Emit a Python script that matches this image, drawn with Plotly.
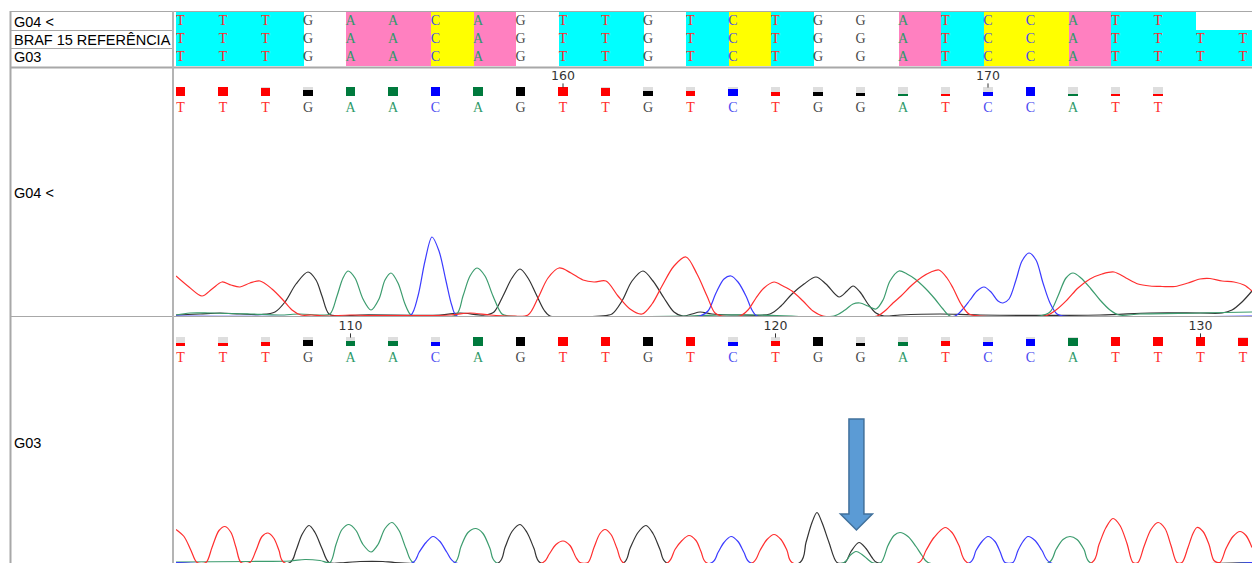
import plotly.graph_objects as go

FIG_W, FIG_H = 1252, 563

# ---- aligned sequences -------------------------------------------------
SEQ_G04 = "TTTGAACAGTTGTCTGGATCCATT"
SEQ_REF = "TTTGAACAGTTGTCTGGATCCATTTT"
SEQ_G03 = "TTTGAACAGTTGTCTGGATCCATTTT"
ALIGN_ROWS = ["G04 <", "BRAF 15 REFERÊNCIA", "G03"]
PANEL_NAMES = ["G04 <", "G03"]

# base number of the first visible call in each trace window
FIRST_BASE_G04 = 151
FIRST_BASE_G03 = 106

# call quality (fraction of full marker height)
QUAL_G04 = [1, 1, 0.85, 0.65, 1, 1, 1, 1, 1, 1, 0.85, 0.5, 0.5, 0.7, 0.4,
            0.4, 0.35, 0.15, 0.15, 0.4, 1, 0.2, 0.2, 0.2]
QUAL_G03 = [0.35, 0.35, 0.45, 0.6, 0.55, 0.55, 0.45, 1, 1, 1, 1, 1, 1, 0.45,
            0.55, 1, 0.35, 0.45, 0.55, 0.45, 0.7, 0.85, 1, 1, 1, 0.85]

# base flagged in the G03 window
MUTATION_COL = 16

# ---- chromatogram channels: (scan, signal) -----------------------------
G04_T = [(0, 40), (13, 29), (26, 20), (36, 27), (46, 34), (55, 31), (64, 29), (74, 33),
         (84, 35), (96, 27), (107, 16), (116, 6), (125, 1), (136, 1), (149, 0), (174, 1),
         (194, 0.5), (274, 1), (294, 3), (314, 1), (334, 0), (352, 1), (362, 18), (372, 38),
         (383, 48), (395, 43), (407, 36), (418, 34), (430, 35), (442, 20), (454, 7), (466, 2),
         (476, 12), (486, 30), (498, 50), (510, 59), (521, 42), (531, 20), (539, 3), (546, 0),
         (564, 0), (572, 6), (580, 18), (588, 28), (598, 34), (607, 30), (616, 25), (627, 15),
         (637, 5), (647, 0), (701, 0), (710, 6), (717, 13), (725, 20), (736, 31), (746, 39),
         (755, 44), (763, 46), (771, 38), (777, 28), (785, 12), (793, 2), (804, 0), (869, 0),
         (880, 6), (891, 16), (902, 28), (914, 37), (926, 42), (938, 44), (950, 38), (962, 32),
         (974, 30), (986, 29.5), (999, 29.5), (1012, 33), (1024, 37), (1034, 37.5), (1046, 35),
         (1058, 34), (1068, 31), (1076, 25)]
G04_G = [(0, 1), (24, 2), (44, 3), (64, 2), (86, 1.5), (99, 4), (109, 14), (120, 32),
         (132, 44), (140, 36), (146, 20), (153, 2), (164, 0), (184, 1), (264, 1), (284, 3),
         (309, 1), (318, 4), (327, 20), (336, 38), (344, 47), (352, 38), (360, 22), (368, 6),
         (374, 0), (424, 0), (436, 2), (446, 15), (456, 35), (467, 45), (477, 35), (488, 18),
         (498, 4), (507, 0), (516, 2), (524, 4), (536, 2), (564, 1), (594, 2), (605, 10),
         (616, 22), (628, 32), (640, 39), (650, 32), (663, 19), (671, 25), (677, 30), (684, 24),
         (692, 12), (700, 3), (708, 0), (724, 1), (764, 2), (804, 1), (924, 1), (974, 3),
         (1024, 3), (1046, 3), (1056, 6), (1066, 14), (1076, 25)]
G04_A = [(0, 1), (14, 3), (34, 3), (74, 2), (104, 1), (124, 2), (144, 1), (154, 2),
         (161, 20), (167, 38), (172, 45), (179, 38), (187, 17), (195, 6), (203, 17), (209, 36),
         (215, 43), (222, 33), (229, 12), (235, 1), (244, 0), (280, 1), (287, 20), (294, 40),
         (301, 48), (309, 40), (317, 20), (326, 2), (334, 0), (514, 0), (544, 1), (584, 1),
         (658, 0), (669, 6), (677, 12), (684, 13), (692, 10), (700, 7), (707, 16), (714, 35),
         (723, 45), (731, 42), (739, 37), (749, 28), (759, 17), (767, 7), (774, 0), (864, 0),
         (874, 4), (882, 20), (890, 38), (897, 43), (905, 38), (915, 27), (924, 16), (934, 6),
         (943, 1), (964, 2), (1024, 3), (1076, 4)]
G04_C = [(0, 0), (224, 0), (235, 1), (242, 20), (249, 55), (256, 79), (263, 65), (270, 35),
         (276, 10), (281, 0), (524, 0), (532, 5), (540, 23), (548, 37), (555, 40), (562, 34),
         (570, 20), (576, 6), (581, 0), (779, 0), (786, 6), (794, 16), (801, 25), (808, 29),
         (815, 24), (822, 15), (827, 13), (833, 17), (840, 36), (846, 55), (853, 63), (860, 56),
         (867, 33), (874, 13), (881, 2), (887, 0), (1076, 0)]

G03_T = [(0, 33), (8, 26), (15, 12), (21, 0), (30, 0), (36, 15), (43, 32), (49, 36),
         (55, 30), (60, 15), (65, 0), (74, 0), (80, 12), (86, 26), (92, 29.5), (98, 24),
         (103, 12), (108, 0), (367, 0), (373, 8), (380, 18), (387, 21.5), (394, 17), (400, 5),
         (404, 0), (412, 0), (418, 15), (424, 29), (429, 33), (435, 28), (441, 14), (447, 0),
         (492, 0), (499, 13), (506, 22), (513, 27), (520, 22), (525, 11), (530, 0), (577, 0),
         (584, 12), (591, 23), (598, 28), (605, 23), (611, 12), (616, 0), (743, 0), (750, 12),
         (758, 25), (769, 35), (776, 30), (783, 17), (791, 0), (916, 0), (923, 18), (930, 35),
         (937, 44), (944, 37), (951, 19), (957, 0), (962, 0), (968, 16), (975, 33), (982, 40),
         (989, 34), (995, 17), (1001, 0), (1006, 0), (1012, 15), (1017, 29), (1021, 35),
         (1027, 31), (1033, 18), (1038, 2), (1044, 0), (1050, 14), (1057, 26), (1064, 31),
         (1070, 27), (1076, 15)]
G03_G = [(0, 0), (114, 0), (120, 12), (126, 28), (133, 37), (139, 30), (146, 14), (153, 0),
         (169, 0), (184, 1), (207, 1), (219, 0), (323, 0), (329, 15), (336, 31), (344, 38),
         (351, 30), (358, 14), (364, 0), (448, 0), (454, 14), (462, 30), (470, 37), (477, 29),
         (484, 13), (490, 0), (624, 0), (630, 20), (636, 40), (641, 50), (646, 40), (653, 20),
         (661, 0), (669, 0), (675, 11), (683, 20), (690, 14), (696, 5), (701, 0), (1076, 0)]
G03_A = [(0, 0.5), (74, 1), (114, 1.5), (129, 3), (144, 2), (154, 0), (160, 18), (166, 33),
         (173, 38), (180, 32), (187, 18), (195, 10.5), (202, 18), (209, 34), (216, 40),
         (223, 32), (230, 14), (237, 0), (279, 0), (285, 16), (292, 30), (300, 34), (307, 29),
         (314, 14), (320, 0), (668, 0), (674, 7), (680, 11), (686, 8), (692, 3), (696, 0),
         (705, 0), (712, 17), (718, 27), (724, 30), (732, 26), (740, 16), (746, 7), (752, 0),
         (873, 0), (880, 13), (887, 23), (894, 26), (901, 23), (908, 13), (914, 0), (1076, 0)]
G03_C = [(0, 0), (237, 0), (243, 10), (250, 20), (257, 26), (264, 21), (271, 10), (279, 0),
         (536, 0), (542, 10), (548, 20), (555, 26), (562, 21), (568, 10), (574, 0), (794, 0),
         (800, 12), (806, 21), (812, 26), (819, 21), (824, 11), (829, 0), (837, 0), (842, 12),
         (847, 21), (852, 26), (859, 22), (866, 12), (874, 0), (1076, 0)]

# ---- styling -------------------------------------------------------------
ALIGN_BG = {"G": 0, "T": 1, "A": 2, "C": 3}
ALIGN_SCALE = [[0, "#FFFFFF"], [0.25, "#FFFFFF"], [0.25, "#00FFFF"], [0.5, "#00FFFF"],
               [0.5, "#FF80C0"], [0.75, "#FF80C0"], [0.75, "#FFFF00"], [1, "#FFFF00"]]
LETTER_COL = {"T": "#FF2B2B", "A": "#2E9A6A", "C": "#4A4AF0", "G": "#4A4A4A"}
CALL_COL = {"T": "#FF0000", "A": "#007A3D", "C": "#0000FF", "G": "#000000"}
TRACE_COL = {"G": "#333333", "A": "#3C9C6E", "C": "#3B3BFF", "T": "#FF2E2E"}
LETTER_FONT = "Liberation Serif"
SANS = "Liberation Sans"

LEFT_PX = 176          # start of the sequence area
COL_PX = 42.5          # width of one base column
LABEL_SEP_PX = 173
N_VISIBLE = (FIG_W - LEFT_PX) / COL_PX
CALL_OFF = 4.5 / COL_PX
BAR_W = 9.5 / COL_PX
BAR_BASE, BAR_H = 24, 9.5
LETTER_Y, TICK_Y, TICKMARK_Y = 12, 43, 34.5


def fx(p):
    return p / FIG_W


def fy(p):
    return 1 - p / FIG_H


fig = go.Figure()

# ---- alignment block -------------------------------------------------------
rows = [SEQ_G04, SEQ_REF, SEQ_G03]
n_cols = max(len(s) for s in rows)
z = [[ALIGN_BG[s[i]] if i < len(s) else None for i in range(n_cols)] for s in rows]
fig.add_trace(go.Heatmap(
    z=z, x=[i + 0.5 for i in range(n_cols)], y=list(range(len(rows))),
    colorscale=ALIGN_SCALE, zmin=-0.5, zmax=3.5, showscale=False,
    hoverinfo="skip", xaxis="x", yaxis="y"))
for r, s in enumerate(rows):
    fig.add_trace(go.Scatter(
        x=[i + CALL_OFF for i in range(len(s))], y=[r] * len(s), mode="text",
        text=list(s), textposition="middle center",
        textfont=dict(family=LETTER_FONT, size=14, color=[LETTER_COL[b] for b in s]),
        hoverinfo="skip", xaxis="x", yaxis="y"))


# ---- base-call headers (quality markers, calls, position ticks) -----------
def add_header(seq, qual, first_base, yaxis):
    xs = [i + CALL_OFF for i in range(len(seq))]
    fig.add_trace(go.Bar(x=xs, y=[BAR_H] * len(seq), base=BAR_BASE, width=BAR_W,
                         marker=dict(color="#DEDEDE", line_width=0),
                         hoverinfo="skip", xaxis="x", yaxis=yaxis))
    fig.add_trace(go.Bar(x=xs, y=[q * BAR_H for q in qual], base=BAR_BASE, width=BAR_W,
                         marker=dict(color=[CALL_COL[b] for b in seq], line_width=0),
                         hoverinfo="skip", xaxis="x", yaxis=yaxis))
    fig.add_trace(go.Scatter(
        x=xs, y=[LETTER_Y] * len(seq), mode="text", text=list(seq),
        textfont=dict(family=LETTER_FONT, size=14, color=[LETTER_COL[b] for b in seq]),
        hoverinfo="skip", xaxis="x", yaxis=yaxis))
    tick_idx = [i for i in range(len(seq)) if (first_base + i) % 10 == 0]
    fig.add_trace(go.Scatter(
        x=[xs[i] for i in tick_idx], y=[TICK_Y] * len(tick_idx), mode="text",
        text=[str(first_base + i) for i in tick_idx],
        textfont=dict(family="DejaVu Sans", size=12.5, color="#333333"),
        hoverinfo="skip", xaxis="x", yaxis=yaxis))
    fig.add_trace(go.Scatter(
        x=[xs[i] for i in tick_idx], y=[TICKMARK_Y] * len(tick_idx), mode="markers",
        marker=dict(symbol="line-ns", size=3, line=dict(width=1, color="#333333")),
        hoverinfo="skip", xaxis="x", yaxis=yaxis))


add_header(SEQ_G04, QUAL_G04, FIRST_BASE_G04, "y2")
add_header(SEQ_G03, QUAL_G03, FIRST_BASE_G03, "y4")


# ---- chromatogram traces ----------------------------------------------------
def add_channels(channels, yaxis):
    for base, pts in channels:
        fig.add_trace(go.Scatter(
            x=[p[0] for p in pts], y=[p[1] for p in pts], mode="lines",
            line=dict(color=TRACE_COL[base], width=1.2, shape="spline", smoothing=0.9),
            hoverinfo="skip", xaxis="x2", yaxis=yaxis))


add_channels([("G", G04_G), ("A", G04_A), ("C", G04_C), ("T", G04_T)], "y3")
add_channels([("G", G03_G), ("A", G03_A), ("C", G03_C), ("T", G03_T)], "y5")

# ---- frame lines ---------------------------------------------------------------
GRID = "#A8A8A8"
shapes = [
    dict(type="line", xref="paper", yref="paper", x0=fx(10), x1=1, y0=fy(11.5), y1=fy(11.5),
         line=dict(color=GRID, width=1)),
    dict(type="line", xref="paper", yref="paper", x0=fx(10), x1=fx(LABEL_SEP_PX),
         y0=fy(30.5), y1=fy(30.5), line=dict(color=GRID, width=1)),
    dict(type="line", xref="paper", yref="paper", x0=fx(10), x1=fx(LABEL_SEP_PX),
         y0=fy(48.5), y1=fy(48.5), line=dict(color=GRID, width=1)),
    dict(type="line", xref="paper", yref="paper", x0=fx(10), x1=1, y0=fy(67.5), y1=fy(67.5),
         line=dict(color=GRID, width=2)),
    dict(type="line", xref="paper", yref="paper", x0=fx(10), x1=1, y0=fy(316.5), y1=fy(316.5),
         line=dict(color=GRID, width=1)),
    dict(type="line", xref="paper", yref="paper", x0=fx(LABEL_SEP_PX), x1=fx(LABEL_SEP_PX),
         y0=fy(11), y1=0, line=dict(color="#B4B4B4", width=2)),
    dict(type="line", xref="paper", yref="paper", x0=fx(10.5), x1=fx(10.5),
         y0=fy(11), y1=0, line=dict(color=GRID, width=2)),
]

# block arrow pointing at the flagged base in G03
cx = MUTATION_COL + 0.01
sw, hw = 0.176, 0.376
top, neck, tip = 143.5, 48.5, 32.5
arrow_path = (f"M {cx - sw},{top} L {cx + sw},{top} L {cx + sw},{neck} L {cx + hw},{neck} "
              f"L {cx},{tip} L {cx - hw},{neck} L {cx - sw},{neck} Z")
shapes.append(dict(type="path", xref="x", yref="y5", path=arrow_path,
                   fillcolor="#5B9BD5", line=dict(color="#41719C", width=1.5)))

# ---- labels ---------------------------------------------------------------------
annotations = []
for r, name in enumerate(ALIGN_ROWS):
    annotations.append(dict(x=fx(12), y=fy(21.5 + 18 * r), xref="paper", yref="paper",
                            text=name, showarrow=False, xanchor="left", yanchor="middle",
                            font=dict(family=SANS, size=14.5, color="#000000")))
for name, py in zip(PANEL_NAMES, [193, 443]):
    annotations.append(dict(x=fx(12), y=fy(py), xref="paper", yref="paper", text=name,
                            showarrow=False, xanchor="left", yanchor="middle",
                            font=dict(family=SANS, size=14.5, color="#000000")))

hidden = dict(visible=False, showgrid=False, zeroline=False, fixedrange=True)
fig.update_layout(
    width=FIG_W, height=FIG_H, margin=dict(l=0, r=0, t=0, b=0),
    paper_bgcolor="white", plot_bgcolor="rgba(0,0,0,0)",
    showlegend=False, hovermode=False, barmode="overlay", bargap=0,
    xaxis=dict(hidden, domain=[fx(LEFT_PX), 1], range=[0, N_VISIBLE], anchor="y"),
    xaxis2=dict(hidden, domain=[fx(LEFT_PX), 1], range=[0, FIG_W - LEFT_PX], anchor="y3"),
    yaxis=dict(hidden, domain=[fy(66), fy(12)], range=[2.5, -0.5], anchor="x"),
    yaxis2=dict(hidden, domain=[fy(120), fy(70)], range=[0, 50], anchor="x"),
    yaxis3=dict(hidden, domain=[fy(316), fy(120)], range=[0, 196], anchor="x2"),
    yaxis4=dict(hidden, domain=[fy(370), fy(320)], range=[0, 50], anchor="x"),
    yaxis5=dict(hidden, domain=[0, fy(367)], range=[-0.5, 195.5], anchor="x2"),
    shapes=shapes, annotations=annotations,
)

fig.write_html("out.html")
